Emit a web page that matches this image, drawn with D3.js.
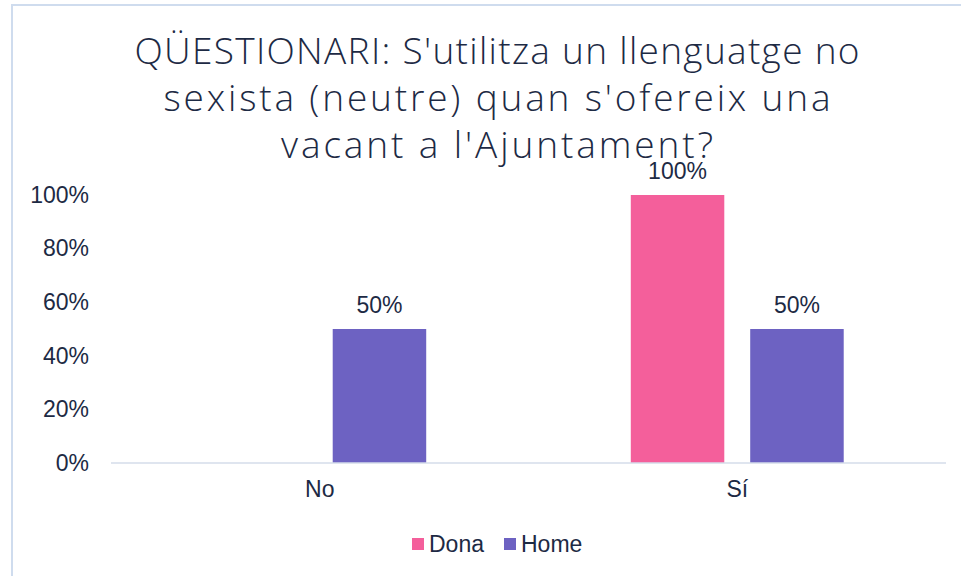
<!DOCTYPE html>
<html>
<head>
<meta charset="utf-8">
<script src="https://cdn.jsdelivr.net/npm/d3@7"></script>
<style>
  body { margin: 0; background: #fff; }
  svg text { font-family: "Liberation Sans", Arial, sans-serif; fill: #1d2a44; }
</style>
</head>
<body>
<div class="wrapper"></div>
<script>
// chart data
var titleLines = [
  "QÜESTIONARI: S'utilitza un llenguatge no",
  "sexista (neutre) quan s'ofereix una",
  "vacant a l'Ajuntament?"
];
var categories = ["No", "Sí"];
var seriesNames = ["Dona", "Home"];
var donaValues = [null, 1.0];
var homeValues = [0.5, 0.5];
var yTicks = [0, 0.2, 0.4, 0.6, 0.8, 1.0];
var colors = { Dona: "#f45f9b", Home: "#6d62c2" };

// widths of the title lines in the original (wider font there)
var titleWidths = [725, 667, 432];

var W = 961, H = 576;

var svg = d3
  .select(".wrapper")
  .append("svg")
  .attr("width", W)
  .attr("height", H);

// chart border (right edge falls outside the picture)
svg
  .append("rect")
  .attr("x", 12)
  .attr("y", 5)
  .attr("width", 980)
  .attr("height", 600)
  .attr("fill", "none")
  .attr("stroke", "#cfdcee")
  .attr("stroke-width", 2);

// title
svg
  .append("text")
  .attr("text-anchor", "middle")
  .style("font-family", "'Open Sans', sans-serif")
  .style("font-weight", 300)
  .style("font-size", "37px")
  .selectAll("tspan")
  .data(titleLines)
  .enter()
  .append("tspan")
  .attr("x", 497)
  .attr("y", function(d, i) {
    return 64 + i * 47;
  })
  .attr("textLength", function(d, i) {
    return titleWidths[i];
  })
  .attr("lengthAdjust", "spacing")
  .text(function(d) {
    return d;
  });

var x = d3
  .scaleBand()
  .domain(categories)
  .range([111, 946])
  .paddingInner(0.49)
  .paddingOuter(0.245);

var xs = d3
  .scaleBand()
  .domain(seriesNames)
  .range([0, x.bandwidth()])
  .paddingInner(0.217);

var y = d3.scaleLinear().domain([0, 1]).range([463, 195]);

var rows = categories.map(function(c, i) {
  return { cat: c, values: [donaValues[i], homeValues[i]] };
});

// bars
var groups = svg
  .selectAll("g.cat")
  .data(rows)
  .enter()
  .append("g")
  .attr("class", "cat")
  .attr("transform", function(d) {
    return "translate(" + x(d.cat) + ",0)";
  });

var cells = groups
  .selectAll("g.bar")
  .data(function(d) {
    return d.values
      .map(function(v, i) {
        return { name: seriesNames[i], val: v };
      })
      .filter(function(d) {
        return d.val != null;
      });
  })
  .enter()
  .append("g")
  .attr("class", "bar");

cells
  .append("rect")
  .attr("x", function(d) {
    return xs(d.name);
  })
  .attr("y", function(d) {
    return y(d.val);
  })
  .attr("width", xs.bandwidth())
  .attr("height", function(d) {
    return y(0) - y(d.val);
  })
  .attr("fill", function(d) {
    return colors[d.name];
  });

cells
  .append("text")
  .attr("x", function(d) {
    return xs(d.name) + xs.bandwidth() / 2;
  })
  .attr("y", function(d) {
    return y(d.val) - 16;
  })
  .attr("text-anchor", "middle")
  .style("font-size", "23px")
  .text(function(d) {
    return d3.format(".0%")(d.val);
  });

// baseline
svg
  .append("line")
  .attr("x1", 111)
  .attr("x2", 946)
  .attr("y1", y(0))
  .attr("y2", y(0))
  .attr("stroke", "#d5dcea")
  .attr("stroke-width", 1.5);

// y axis labels
var yAxis = svg
  .append("g")
  .attr("transform", "translate(89,0)")
  .call(
    d3.axisLeft(y).tickValues(yTicks).tickSize(0).tickPadding(0).tickFormat(d3.format(".0%"))
  );
yAxis.select(".domain").remove();
yAxis
  .selectAll("text")
  .style("font-size", "23px")
  .attr("fill", "#1d2a44");

// x axis labels
var xAxis = svg
  .append("g")
  .attr("transform", "translate(0," + 481 + ")")
  .call(d3.axisBottom(x).tickSize(0).tickPadding(0));
xAxis.select(".domain").remove();
xAxis
  .selectAll("text")
  .style("font-size", "23px")
  .attr("fill", "#1d2a44");

// legend
var legend = svg
  .selectAll("g.legend")
  .data(seriesNames)
  .enter()
  .append("g")
  .attr("class", "legend")
  .attr("transform", function(d, i) {
    return "translate(" + (412 + i * 92) + ",538)";
  });

legend
  .append("rect")
  .attr("width", 12)
  .attr("height", 12)
  .attr("fill", function(d) {
    return colors[d];
  });

legend
  .append("text")
  .attr("x", 17)
  .attr("y", 14)
  .style("font-size", "23px")
  .text(function(d) {
    return d;
  });
</script>
</body>
</html>
